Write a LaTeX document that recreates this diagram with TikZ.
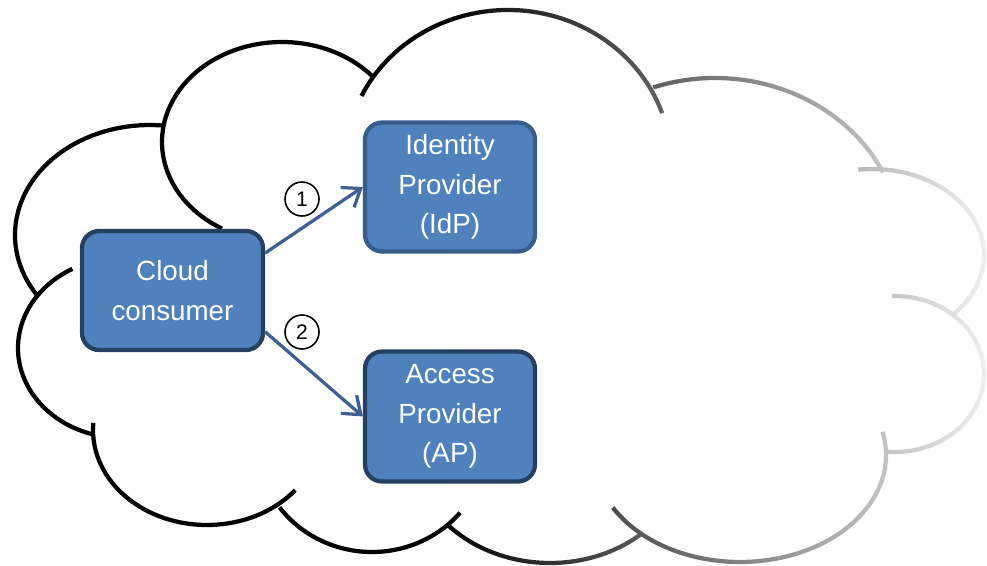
\documentclass[tikz,border=0pt]{standalone}
\usepackage{fontspec}
\setmainfont{Liberation Sans}
\usetikzlibrary{arrows.meta}
\usetikzlibrary{fadings}

\definecolor{boxfill}{RGB}{79,129,189}
\definecolor{boxline}{RGB}{37,64,97}
\definecolor{idpline}{RGB}{56,93,138}
\definecolor{arrowblue}{RGB}{60,96,145}

\tikzfading[name=fadecloud, left color=transparent!100, right color=transparent!5]

\tikzset{
  cloudline/.style={line width=0.085cm, black},
  provider/.style={draw=boxline, fill=boxfill, line width=0.085cm, rounded corners=0.34cm,
    text=white, align=center, font=\fontsize{15.8}{22.4}\selectfont},
  flow/.style={arrowblue, line width=0.065cm, -{Straight Barb[length=0.32cm, width=0.48cm]}},
  stepnum/.style={draw, circle, line width=0.032cm, minimum size=0.68cm, inner sep=0pt,
    font=\fontsize{12}{14}\selectfont}
}

\begin{document}
\begin{tikzpicture}[x=0.02cm, y=-0.02cm]
  \useasboundingbox (0,0) rectangle (987,565);

  % Cloud outline: one elliptic arc per lobe
  \foreach \cx/\cy/\rx/\ry/\sa/\ea in {
      122/348/104/90/106/241.5,
      150/235/135/110/146/275.5,
      282/142/120/100/120/318.5,
      508/163/163/153/206/341,
      715/246/187/168/250.7/334,
      872/255/112/86/263/405,
      895/374/89/78/268/457,
      740/455/146/107/-12.5/150.6,
      550/443/140/120/49.4/137.8,
      372/442/115/110/40/143.5,
      207/430/114/95/39.3/184.3}
    \draw[cloudline] ([shift={(\sa:{\rx} and {\ry})}]\cx,\cy)
      arc[start angle=\sa, end angle=\ea, x radius=\rx, y radius=\ry];

  % Fade the outline out towards the right
  \fill[white, path fading=fadecloud] (440,-5) rectangle (992,570);

  % Boxes
  \node[provider, minimum width=3.62cm, minimum height=2.38cm] (consumer) at (172.5,290.5) {Cloud\\consumer};
  \node[provider, draw=idpline, minimum width=3.4cm, minimum height=2.58cm] (idp) at (450,187) {Identity\\Provider\\(IdP)};
  \node[provider, minimum width=3.4cm, minimum height=2.6cm] (ap) at (450,416.5) {Access\\Provider\\(AP)};

  % Arrows
  \draw[flow] (consumer.22.6) -- (idp.west);
  \draw[flow] (consumer.-24.7) -- (ap.west);

  % Step numbers
  \node[stepnum] (one) at (302,199) {1};
  \node[stepnum] (two) at (302,332) {2};
\end{tikzpicture}
\end{document}
